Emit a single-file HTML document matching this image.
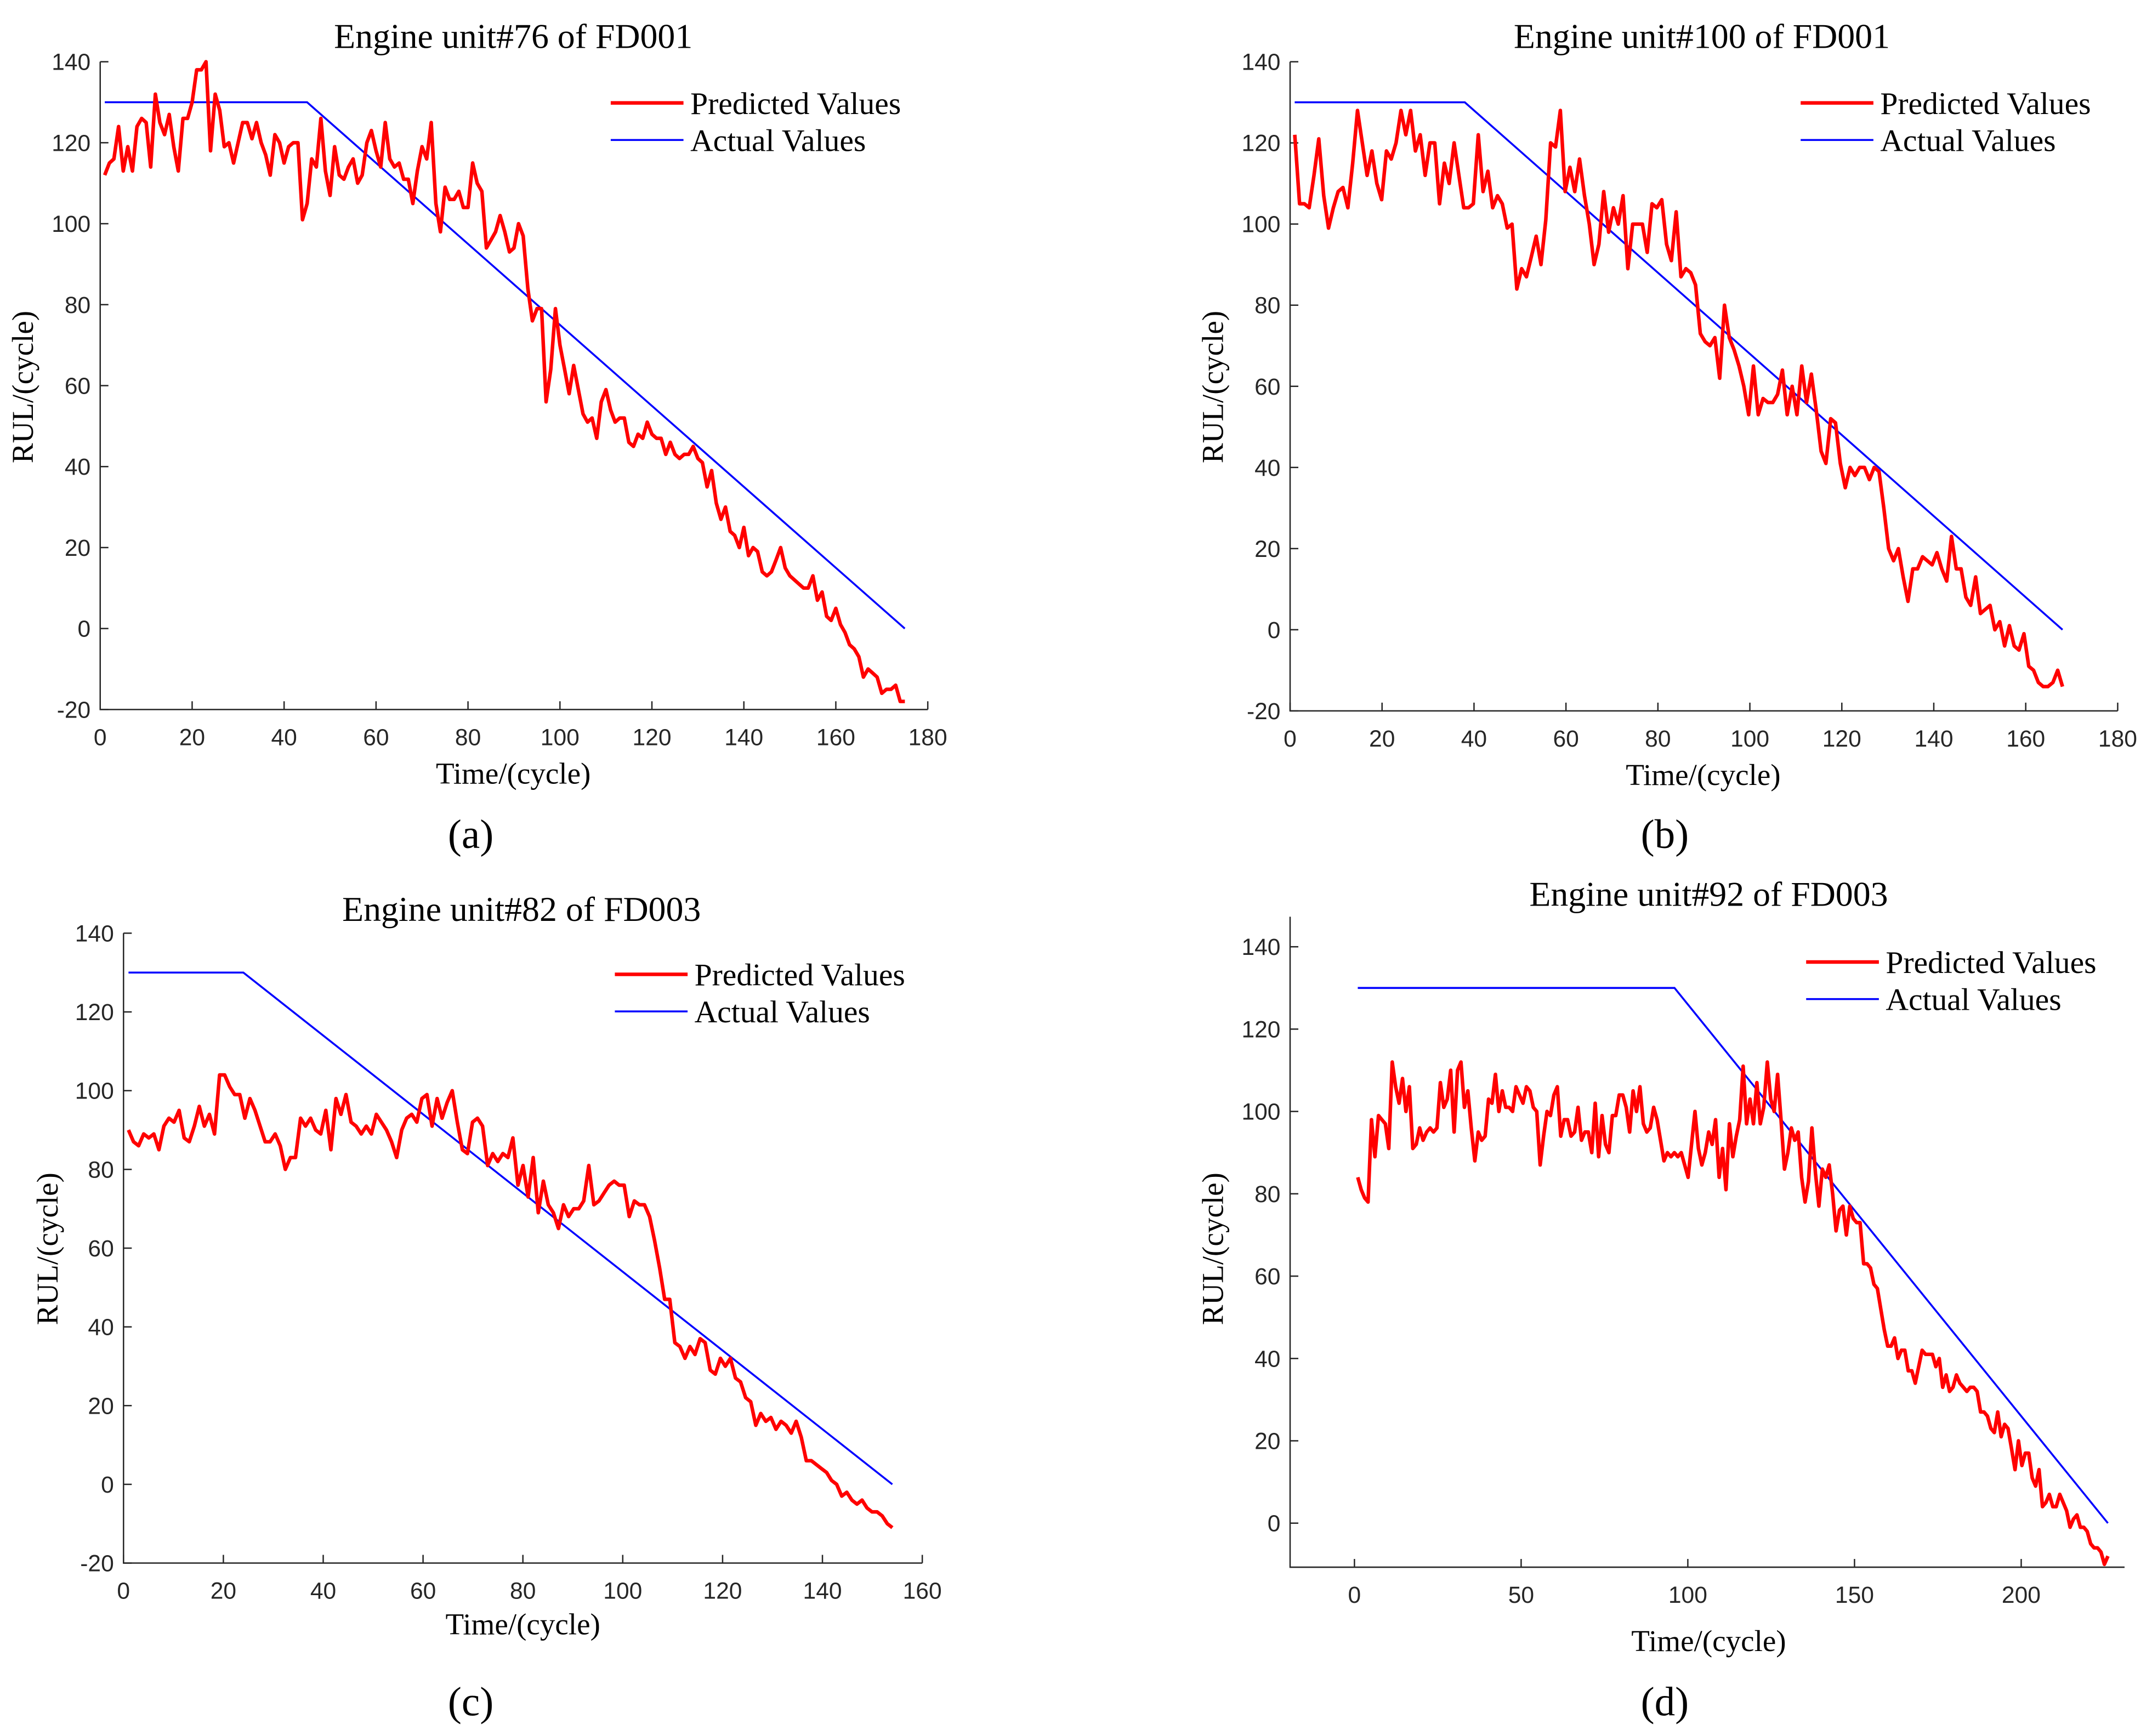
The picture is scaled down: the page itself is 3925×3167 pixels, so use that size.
<!DOCTYPE html>
<html><head><meta charset="utf-8"><style>
html,body{margin:0;padding:0;background:#fff;}
svg{display:block;}
.tick{font-family:"Liberation Sans",Arial,sans-serif;font-size:17px;fill:#262626;}
.ser{font-family:"Liberation Serif","Times New Roman",serif;fill:#000;}
</style></head><body>
<svg id="fig" width="3925" height="3167" viewBox="0 0 1568 1265" preserveAspectRatio="none" xmlns="http://www.w3.org/2000/svg"></svg>
<script>
const predA=[112,115,116,124,113,119,113,124,126,125,114,132,125,122,127,119,113,126,126,130,138,138,140,118,132,128,119,120,115,120,125,125,121,125,120,117,112,122,120,115,119,120,120,101,105,116,114,126,113,107,119,112,111,114,116,110,112,120,123,118,114,125,116,114,115,111,111,105,113,119,116,125,105,98,109,106,106,108,104,104,115,110,108,94,96,98,102,98,93,94,100,97,84,76,79,79,56,64,79,70,64,58,65,59,53,51,52,47,56,59,54,51,52,52,46,45,48,47,51,48,47,47,43,46,43,42,43,43,45,42,41,35,39,31,27,30,24,23,20,25,18,20,19,14,13,14,17,20,15,13,12,11,10,10,13,7,9,3,2,5,1,-1,-4,-5,-7,-12,-10,-11,-12,-16,-15,-15,-14,-18,-18];
const predB=[122,105,105,104,112,121,107,99,104,108,109,104,115,128,120,112,118,110,106,118,116,120,128,122,128,118,122,112,120,120,105,115,110,120,112,104,104,105,122,108,113,104,107,105,99,100,84,89,87,92,97,90,101,120,119,128,108,114,108,116,107,100,90,95,108,98,104,100,107,89,100,100,100,93,105,104,106,95,91,103,87,89,88,85,73,71,70,72,62,80,72,69,65,60,53,65,53,57,56,56,58,64,53,60,53,65,56,63,54,44,41,52,51,41,35,40,38,40,40,37,40,39,30,20,17,20,13,7,15,15,18,17,16,19,15,12,23,15,15,8,6,13,4,5,6,0,2,-4,1,-4,-5,-1,-9,-10,-13,-14,-14,-13,-10,-14];
const predC=[90,87,86,89,88,89,85,91,93,92,95,88,87,91,96,91,94,89,104,104,101,99,99,93,98,95,91,87,87,89,86,80,83,83,93,91,93,90,89,95,85,98,94,99,92,91,89,91,89,94,92,90,87,83,90,93,94,92,98,99,91,98,93,97,100,92,85,84,92,93,91,81,84,82,84,83,88,76,81,73,83,69,77,71,69,65,71,68,70,70,72,81,71,72,74,76,77,76,76,68,72,71,71,68,62,55,47,47,36,35,32,35,33,37,36,29,28,32,30,32,27,26,22,21,15,18,16,17,14,16,15,13,16,12,6,6,5,4,3,1,0,-3,-2,-4,-5,-4,-6,-7,-7,-8,-10,-11];
const predD=[84,81,79,78,98,89,99,98,97,91,112,106,102,108,100,106,91,92,96,93,95,96,95,96,107,101,103,110,95,110,112,101,105,96,88,95,93,94,103,102,109,100,105,101,101,100,106,104,102,106,105,101,100,87,94,100,99,104,106,94,98,98,94,95,101,93,95,95,90,102,89,99,92,90,99,99,104,104,101,95,105,100,106,97,95,96,101,98,93,88,90,89,90,89,90,87,84,92,100,91,87,90,95,92,98,84,91,81,97,89,94,98,111,97,103,97,107,97,101,112,103,100,109,98,86,90,96,93,95,84,78,83,96,85,77,86,84,87,80,71,76,77,70,77,74,73,73,63,63,62,58,57,52,47,43,43,45,40,42,42,37,37,34,38,42,41,41,41,38,40,33,36,32,33,36,34,33,32,33,33,32,27,27,26,23,22,27,21,24,23,18,13,20,14,17,17,11,9,13,4,5,7,4,4,7,5,3,-1,1,2,-1,-1,-2,-5,-6,-6,-7,-10,-8];
const actualA=[[1,130],[45,130],[175,0]];
const actualB=[[1,130],[38,130],[168,0]];
const actualC=[[1,130],[24,130],[154,0]];
const actualD=[[1,130],[96,130],[226,0]];
const endA=175, endB=168, endC=154, endD=226;
const ticksX1=[0,20,40,60,80,100,120,140,160,180];
const ticksX2=[0,20,40,60,80,100,120,140,160];
const ticksX3=[0,50,100,150,200];
const ticksY1=[-20,0,20,40,60,80,100,120,140];
const ticksY2=[0,20,40,60,80,100,120,140];

const NS="http://www.w3.org/2000/svg";
const svg=document.getElementById('fig');
function mk(tag,attrs,parent,text){const e=document.createElementNS(NS,tag);for(const k in attrs)e.setAttribute(k,attrs[k]);if(text!==undefined)e.textContent=text;(parent||svg).appendChild(e);return e;}

function panel(p){
  const g=mk('g',{});
  
  
  const sx=v=>p.L+(v-p.x0)/(p.x1-p.x0)*(p.R-p.L);
  const sy=v=>p.B-(v-p.y0)/(p.y1-p.y0)*(p.B-p.T);
  const ax=mk('path',{d:`M${p.L},${p.T}V${p.B}H${p.R}`,fill:'none',stroke:'#262626','stroke-width':1},g);
  
  
  p.xt.forEach(v=>{const x=sx(v);mk('line',{x1:x,x2:x,y1:p.B,y2:p.B-6,stroke:'#262626','stroke-width':1},g);
    const t=mk('text',{x:x,y:p.B+26,'text-anchor':'middle',class:'tick'},g,String(v));
    
    });
  p.yt.forEach(v=>{const y=sy(v);mk('line',{x1:p.L,x2:p.L+6,y1:y,y2:y,stroke:'#262626','stroke-width':1},g);
    const t=mk('text',{x:p.L-7,y:y+6,'text-anchor':'end',class:'tick'},g,String(v));
    
    });
  const n=p.pred.length;
  const pts=p.pred.map((v,i)=>sx(1+i*(p.end-1)/(n-1)).toFixed(1)+','+sy(v).toFixed(1)).join(' ');
  const blue=mk('polyline',{points:p.act.map(a=>sx(a[0])+','+sy(a[1])).join(' '),fill:'none',stroke:'#0000ff','stroke-width':1.4},g);
  
  
  const red=mk('polyline',{points:pts,fill:'none',stroke:'#ff0000','stroke-width':2.6,'stroke-linejoin':'round'},g);
  
  
  const ti=mk('text',{x:p.tx,y:p.ty,'text-anchor':'middle',class:'ser','font-size':25.5},g,p.title);
  
  
  const xl=mk('text',{x:p.xlx,y:p.xly,'text-anchor':'middle',class:'ser','font-size':22},g,'Time/(cycle)');
  
  
  const yl=mk('text',{x:0,y:0,'text-anchor':'middle',class:'ser','font-size':22,transform:`translate(${p.ylx},${p.yly}) rotate(-90)`},g,'RUL/(cycle)');
  
  
  const lg=mk('g',{},g);
  
  
  mk('line',{x1:p.lgx,x2:p.lgx+53,y1:p.lgy,y2:p.lgy,stroke:'#ff0000','stroke-width':2.6},lg);
  const l1=mk('text',{x:p.lgx+58,y:p.lgy+8,class:'ser','font-size':23},lg,'Predicted Values');
  
  
  mk('line',{x1:p.lgx,x2:p.lgx+53,y1:p.lgy+27,y2:p.lgy+27,stroke:'#0000ff','stroke-width':1.4},lg);
  const l2=mk('text',{x:p.lgx+58,y:p.lgy+35,class:'ser','font-size':23},lg,'Actual Values');
  
  
  const cap=mk('text',{x:p.cx,y:p.cy,'text-anchor':'middle',class:'ser','font-size':30},g,p.cap);
  
  
}
panel({id:'a',pred:predA,act:actualA,end:endA,L:73,R:676,T:45,B:517,x0:0,x1:180,y0:-20,y1:140,xt:ticksX1,yt:ticksY1,title:'Engine unit#76 of FD001',tx:374,ty:35,xlx:374,xly:571,ylx:24,yly:282,lgx:445,lgy:75,cap:'(a)',cx:343,cy:618});
panel({id:'b',pred:predB,act:actualB,end:endB,L:940,R:1543,T:45,B:518,x0:0,x1:180,y0:-20,y1:140,xt:ticksX1,yt:ticksY1,title:'Engine unit#100 of FD001',tx:1240,ty:35,xlx:1241,xly:572,ylx:891,yly:282,lgx:1312,lgy:75,cap:'(b)',cx:1213,cy:618});
panel({id:'c',pred:predC,act:actualC,end:endC,L:90,R:672,T:680,B:1139,x0:0,x1:160,y0:-20,y1:140,xt:ticksX2,yt:ticksY1,title:'Engine unit#82 of FD003',tx:380,ty:671,xlx:381,xly:1191,ylx:42,yly:910,lgx:448,lgy:710,cap:'(c)',cx:343,cy:1250});
panel({id:'d',pred:predD,act:actualD,end:endD,L:940,R:1548,T:668,B:1142,x0:-19.3,x1:231,y0:-10.7,y1:147.3,xt:ticksX3,yt:ticksY2,title:'Engine unit#92 of FD003',tx:1245,ty:660,xlx:1245,xly:1203,ylx:891,yly:910,lgx:1316,lgy:701,cap:'(d)',cx:1213,cy:1250});
</script>
</body></html>
